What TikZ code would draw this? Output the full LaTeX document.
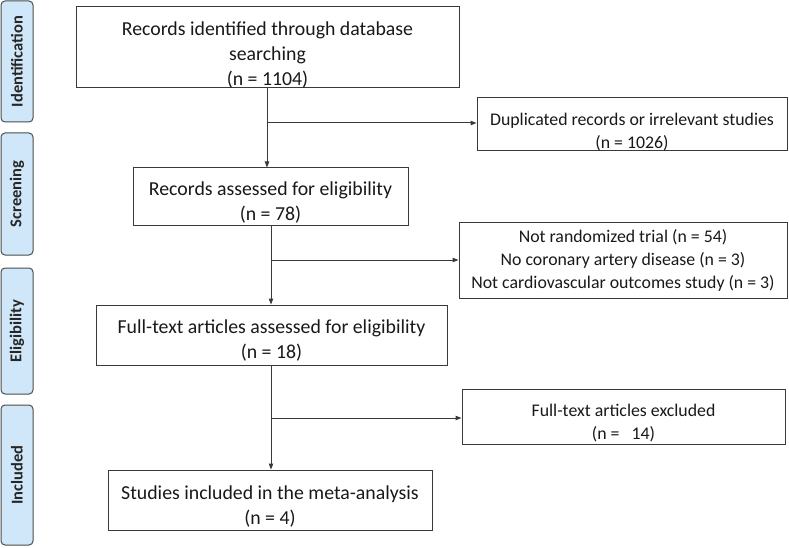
\documentclass[tikz,border=0pt]{standalone}
\usepackage{fontspec}
\setmainfont{Carlito}
\usetikzlibrary{arrows.meta}
\definecolor{linec}{HTML}{3A3A3A}
\definecolor{sidefill}{HTML}{CFE7F8}
\newcommand{\topstrut}[1]{\rule{0pt}{#1}}
\begin{document}
\begin{tikzpicture}[x=1pt,y=-1pt,
  mainbox/.style={draw=linec, line width=1pt, inner sep=0pt, align=center,
    font=\fontsize{19.8}{25}\selectfont, text=black!90},
  sidebox/.style={draw=linec, line width=1pt, inner sep=0pt, align=center,
    font=\fontsize{17.8}{23}\selectfont, text=black!90},
  phase/.style={draw=black!70, line width=1pt, fill=sidefill, rounded corners=4pt,
    rotate=90, inner sep=0pt, minimum height=32pt, font=\fontsize{16.5}{18}\selectfont\bfseries, text=black!85},
  arr/.style={draw=linec, line width=1pt, -{Triangle[length=6pt,width=4.5pt]}},
  ln/.style={draw=linec, line width=1pt}]
\useasboundingbox (0,0) rectangle (789,548);
\fill[white] (0,0) rectangle (789,548);

% phase labels
\node[phase, minimum width=121pt] (pid) at (17,61.5) {Identification};
\node[phase, minimum width=122pt] (psc) at (17,194) {Screening};
\node[phase, minimum width=126pt] (pel) at (17,331) {Eligibility};
\node[phase, minimum width=140pt] (pin) at (17,475) {Included};

% main boxes
\node[mainbox, minimum width=383pt, minimum height=81pt] (b1) at (267.5,47.5)
  {\topstrut{28pt}Records identified through database\\searching\\(n = 1104)};
\node[mainbox, minimum width=275pt, minimum height=57pt] (b2) at (270.5,196.5)
  {\topstrut{26pt}Records assessed for eligibility\\(n = 78)};
\node[mainbox, minimum width=351pt, minimum height=60pt] (b3) at (271.5,335)
  {\topstrut{24pt}Full-text articles assessed for eligibility\\(n = 18)};
\node[mainbox, minimum width=324pt, minimum height=60pt] (b4) at (270,500)
  {\topstrut{26pt}Studies included in the meta-analysis\\(n = 4)};

% side boxes
\node[sidebox, minimum width=310pt, minimum height=50pt] (dup) at (632,124)
  {\topstrut{28pt}Duplicated records or irrelevant studies\\(n = 1026)};
\node[sidebox, minimum width=328pt, minimum height=76pt] (nr) at (623,260)
  {Not randomized trial (n = 54)\\No coronary artery disease (n = 3)\\Not cardiovascular outcomes study (n = 3)};
\node[sidebox, minimum width=323pt, minimum height=55pt] (fx) at (623.5,416.5)
  {\topstrut{25pt}Full-text articles excluded\\(n =\ \ \ 14)};

% connectors
\coordinate (j1) at (267,123);
\coordinate (j2) at (271,260);
\coordinate (j3) at (271,418);
\draw[arr] (b1.south -| j1) -- (b2.north -| j1);
\draw[arr] (j1) -- (j1 -| dup.west);
\draw[arr] (b2.south -| j2) -- (b3.north -| j2);
\draw[arr] (j2) -- (j2 -| nr.west);
\draw[arr] (b3.south -| j3) -- (b4.north -| j3);
\draw[arr] (j3) -- (j3 -| fx.west);
\end{tikzpicture}
\end{document}
